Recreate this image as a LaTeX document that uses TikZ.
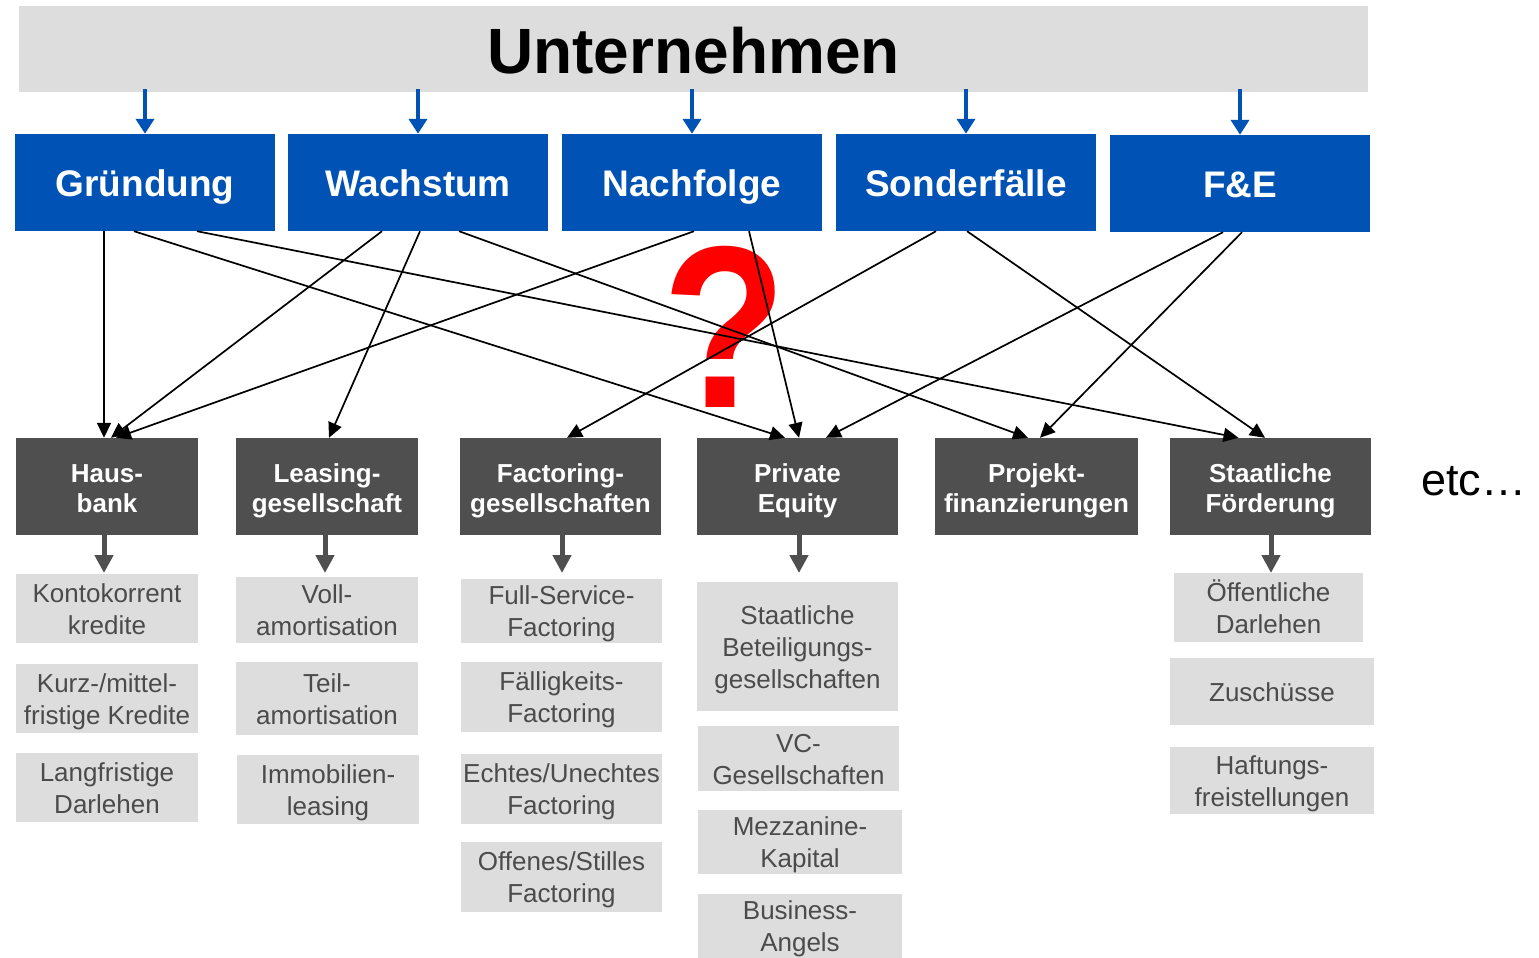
\documentclass[tikz,border=0pt]{standalone}
\usepackage{fontspec}
\usepackage{graphicx}
\setmainfont{Liberation Sans}
\usetikzlibrary{arrows.meta}
\definecolor{ublue}{HTML}{0052B4}
\definecolor{dgray}{HTML}{4F4F4F}
\definecolor{lgray}{HTML}{DDDDDD}
\definecolor{tgray}{HTML}{4B4B4B}
\definecolor{qred}{HTML}{FF0000}
\newcommand{\provT}{\rule{0pt}{27pt}}
\newcommand{\provB}{\rule[-6pt]{0pt}{6pt}}
\newcommand{\instT}{\rule{0pt}{25.5pt}}
\newcommand{\instB}{\rule[-6pt]{0pt}{6pt}}
\newcommand{\phT}{\rule{0pt}{35pt}}
\newcommand{\phB}{\rule[-8pt]{0pt}{8pt}}
\begin{document}
\begin{tikzpicture}[x=1pt,y=-1pt,
  titlebox/.style={fill=lgray, inner sep=0, minimum width=1349pt, minimum height=86pt,
    font=\fontsize{64}{70}\selectfont\bfseries},
  phase/.style={fill=ublue, text=white, inner sep=0, minimum width=260pt, minimum height=97pt,
    font=\fontsize{37}{40}\selectfont\bfseries},
  prov/.style={fill=dgray, text=white, inner sep=0, minimum height=97pt, align=center,
    font=\fontsize{26}{30}\selectfont\bfseries},
  inst/.style={fill=lgray, text=tgray, inner sep=0, align=center,
    font=\fontsize{26}{32}\selectfont},
  link/.style={-{Triangle[length=15pt,width=14pt]}, line width=1.7pt, black},
  bluearrow/.style={-{Triangle[length=15pt,width=18pt]}, line width=4.5pt, ublue},
  grayarrow/.style={-{Triangle[length=18pt,width=18pt]}, line width=5pt, dgray},
]
\clip (0,0) rectangle (1539,958);
\fill[white] (0,0) rectangle (1539,958);

% title
\node[titlebox] (T) at (693.5,49) {\rule{0pt}{57pt}Unternehmen\rule[-8pt]{0pt}{8pt}};

% phases
\node[phase] (G) at (145,182.5) {\phT Gründung\phB};
\node[phase] (W) at (418,182.5) {\phT Wachstum\phB};
\node[phase] (N) at (692,182.5) {\phT Nachfolge\phB};
\node[phase] (S) at (966,182.5) {\phT Sonderfälle\phB};
\node[phase] (FE) at (1240,183.5) {\phT F\&E\phB};

\foreach \p in {G,W,N,S,FE}
  \draw[bluearrow] ([yshift=3pt]T.south -| \p.north) -- (\p.north);

% question mark
\node[text=qred, inner sep=0, font=\fontsize{210}{210}\selectfont\bfseries] (Q) at (724.5,327) {\scalebox{0.97}[1.1]{?}};

% providers
\node[prov, minimum width=182pt] (H) at (107,486.5) {\provT Haus-\\bank\provB};
\node[prov, minimum width=182pt] (L) at (327,486.5) {\provT Leasing-\\gesellschaft\provB};
\node[prov, minimum width=201pt] (F) at (560.5,486.5) {\provT Factoring-\\gesellschaften\provB};
\node[prov, minimum width=201pt] (PE) at (797.5,486.5) {\provT Private\\Equity\provB};
\node[prov, minimum width=203pt] (PJ) at (1036.5,486.5) {\provT Projekt-\\finanzierungen\provB};
\node[prov, minimum width=201pt] (ST) at (1270.5,486.5) {\provT Staatliche\\Förderung\provB};

% links
\draw[link] ([xshift=-41pt]G.south) -- ([xshift=-3pt]H.north);
\draw[link] ([xshift=-11pt]G.south) -- ([xshift=-12.5pt]PE.north);
\draw[link] ([xshift=52pt]G.south) -- ([xshift=-32pt]ST.north);
\draw[link] ([xshift=-36pt]W.south) -- ([xshift=4pt]H.north);
\draw[link] ([xshift=2pt]W.south) -- ([xshift=2pt]L.north);
\draw[link] ([xshift=41pt]W.south) -- ([xshift=-8.5pt]PJ.north);
\draw[link] ([xshift=2pt]N.south) -- ([xshift=9pt]H.north);
\draw[link] ([xshift=57pt]N.south) -- ([xshift=1.5pt]PE.north);
\draw[link] ([xshift=-30pt]S.south) -- ([xshift=6.5pt]F.north);
\draw[link] ([xshift=1pt]S.south) -- ([xshift=-5.5pt]ST.north);
\draw[link] ([xshift=-17pt]FE.south) -- ([xshift=28.5pt]PE.north);
\draw[link] ([xshift=2pt]FE.south) -- ([xshift=3.5pt]PJ.north);

% instruments
\node[inst, minimum width=182pt, minimum height=69pt] (K1) at (107,608.5) {\instT Kontokorrent\\kredite\instB};
\node[inst, minimum width=182pt, minimum height=69pt] (K2) at (107,698.5) {\instT Kurz-/mittel-\\fristige Kredite\instB};
\node[inst, minimum width=182pt, minimum height=69pt] (K3) at (107,787.5) {\instT Langfristige\\Darlehen\instB};

\node[inst, minimum width=182pt, minimum height=66pt] (L1) at (327,610) {\instT Voll-\\amortisation\instB};
\node[inst, minimum width=182pt, minimum height=73pt] (L2) at (327,698.5) {\instT Teil-\\amortisation\instB};
\node[inst, minimum width=182pt, minimum height=69pt] (L3) at (328,789.5) {\instT Immobilien-\\leasing\instB};

\node[inst, minimum width=201pt, minimum height=64pt] (F1) at (561.5,611) {\instT Full-Service-\\Factoring\instB};
\node[inst, minimum width=201pt, minimum height=70pt] (F2) at (561.5,697) {\instT Fälligkeits-\\Factoring\instB};
\node[inst, minimum width=201pt, minimum height=70pt] (F3) at (561.5,789) {\instT Echtes/Unechtes\\Factoring\instB};
\node[inst, minimum width=201pt, minimum height=70pt] (F4) at (561.5,877) {\instT Offenes/Stilles\\Factoring\instB};

\node[inst, minimum width=201pt, minimum height=129pt] (P1) at (797.5,646.5) {\instT Staatliche\\Beteiligungs-\\gesellschaften\instB};
\node[inst, minimum width=201pt, minimum height=65pt] (P2) at (798.5,758.5) {\instT VC-\\Gesellschaften\instB};
\node[inst, minimum width=204pt, minimum height=64pt] (P3) at (800,842) {\instT Mezzanine-\\Kapital\instB};
\node[inst, minimum width=204pt, minimum height=64pt] (P4) at (800,926) {\instT Business-\\Angels\instB};

\node[inst, minimum width=189pt, minimum height=69pt] (S1) at (1268.5,607.5) {\instT Öffentliche\\Darlehen\instB};
\node[inst, minimum width=204pt, minimum height=67pt] (S2) at (1272,691.5) {\instT Zuschüsse\instB};
\node[inst, minimum width=204pt, minimum height=67pt] (S3) at (1272,780.5) {\instT Haftungs-\\freistellungen\instB};

% gray arrows
\coordinate (lvl) at (0,573);
\coordinate (ga) at ([xshift=-3pt]H.south);
\coordinate (gb) at ([xshift=-2pt]L.south);
\coordinate (gc) at ([xshift=1.5pt]F.south);
\coordinate (gd) at ([xshift=1.5pt]PE.south);
\coordinate (ge) at ([xshift=0.5pt]ST.south);
\foreach \c in {ga,gb,gc,gd,ge}
  \draw[grayarrow] (\c) -- (\c |- lvl);

% etc
\node[anchor=base west, inner sep=0, font=\fontsize{45}{50}\selectfont] (E) at (1421,495) {etc…};
\end{tikzpicture}
\end{document}
